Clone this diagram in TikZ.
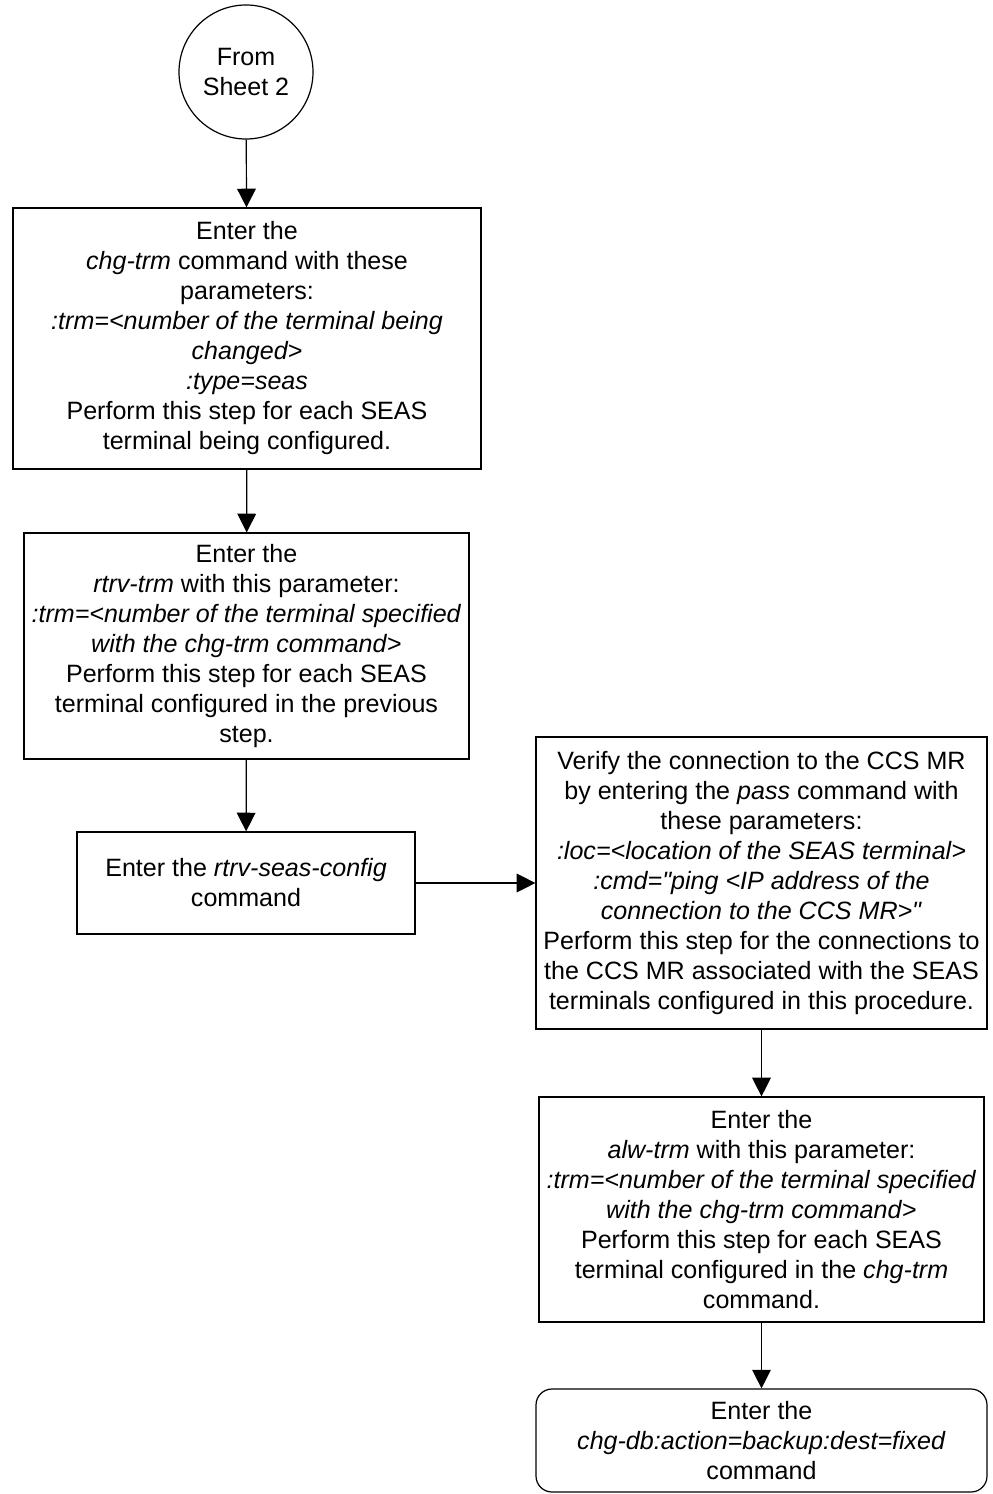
\documentclass[tikz,border=0pt]{standalone}
\usepackage{fontspec}
\newfontfamily\lsans{Liberation Sans}
\usetikzlibrary{arrows.meta}
\begin{document}
\begin{tikzpicture}[x=0.75pt,y=-0.75pt,
  every node/.style={font=\lsans\fontsize{18.8}{22.5}\selectfont, align=center, inner sep=0pt},
  stepbox/.style={draw, line width=0.9pt, rectangle},
  endbox/.style={draw, line width=0.9pt, rectangle, rounded corners=12pt},
  conn/.style={draw, line width=0.9pt, -{Triangle[length=14pt,width=14pt]}}]
\useasboundingbox (0,0) rectangle (992,1494);
\node[draw, line width=0.9pt, circle, minimum size=100.5pt] (c) at (246,72) {From\\Sheet 2};
\node[stepbox, minimum width=351pt, minimum height=195.75pt] (b1) at (247,338.5)
 {Enter the\\\textit{chg-trm} command with these\\parameters:\\\textit{:trm=<number of the terminal being}\\\textit{changed>}\\\textit{:type=seas}\\Perform this step for each SEAS\\terminal being configured.};
\node[stepbox, minimum width=333.75pt, minimum height=169.5pt] (b2) at (246.5,646)
 {Enter the\\\textit{rtrv-trm} with this parameter:\\\textit{:trm=<number of the terminal specified}\\\textit{with the chg-trm command}>\\Perform this step for each SEAS\\terminal configured in the previous\\step.};
\node[stepbox, minimum width=253.5pt, minimum height=76.5pt] (b3) at (246,883)
 {Enter the \textit{rtrv-seas-config}\\command};
\node[stepbox, minimum width=338.25pt, minimum height=219pt] (b4) at (761.5,883)
 {Verify the connection to the CCS MR\\by entering the \textit{pass} command with\\these parameters:\\\textit{:loc=<location of the SEAS terminal>}\\\textit{:cmd="ping <IP address of the}\\\textit{connection to the CCS MR>"}\\Perform this step for the connections to\\the CCS MR associated with the SEAS\\terminals configured in this procedure.};
\node[stepbox, minimum width=333.75pt, minimum height=168.75pt] (b5) at (761.5,1209.5)
 {Enter the\\\textit{alw-trm} with this parameter:\\\textit{:trm=<number of the terminal specified}\\\textit{with the chg-trm command}>\\Perform this step for each SEAS\\terminal configured in the \textit{chg-trm}\\command.};
\node[endbox, minimum width=338.25pt, minimum height=77.25pt] (b6) at (761.5,1440.5)
 {Enter the\\\textit{chg-db:action=backup:dest=fixed}\\command};
\path[conn] (c) -- (b1);
\path[conn] (b1) -- (b2);
\path[conn] (b2) -- (b3);
\path[conn] (b3.east) -- (b4.west);
\path[conn] (b4) -- (b5);
\path[conn] (b5) -- (b6);
\end{tikzpicture}
\end{document}
